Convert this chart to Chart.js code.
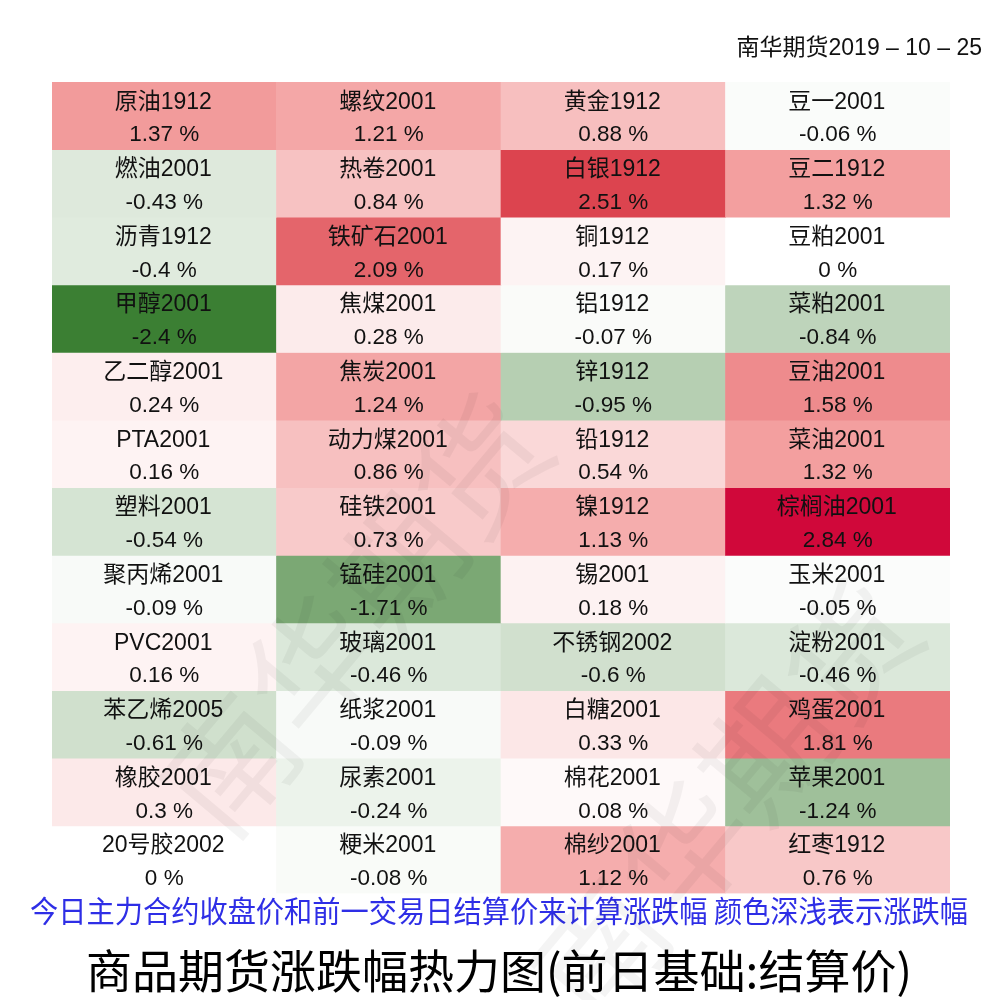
<!DOCTYPE html>
<html>
<head>
<meta charset="utf-8">
<script src="https://cdn.jsdelivr.net/npm/chart.js@4/dist/chart.umd.min.js"></script>
<style>
  html, body { margin: 0; padding: 0; background: #ffffff; }
  #wrap { width: 1000px; height: 1000px; }
</style>
</head>
<body>
<div id="wrap"><canvas id="c" width="1000" height="1000"></canvas></div>
<script>
// ---- data (column by column, top to bottom) ----
const col1Names = ['原油1912','燃油2001','沥青1912','甲醇2001','乙二醇2001','PTA2001','塑料2001','聚丙烯2001','PVC2001','苯乙烯2005','橡胶2001','20号胶2002'];
const col1Values = [1.37,-0.43,-0.4,-2.4,0.24,0.16,-0.54,-0.09,0.16,-0.61,0.3,0];
const col2Names = ['螺纹2001','热卷2001','铁矿石2001','焦煤2001','焦炭2001','动力煤2001','硅铁2001','锰硅2001','玻璃2001','纸浆2001','尿素2001','粳米2001'];
const col2Values = [1.21,0.84,2.09,0.28,1.24,0.86,0.73,-1.71,-0.46,-0.09,-0.24,-0.08];
const col3Names = ['黄金1912','白银1912','铜1912','铝1912','锌1912','铅1912','镍1912','锡2001','不锈钢2002','白糖2001','棉花2001','棉纱2001'];
const col3Values = [0.88,2.51,0.17,-0.07,-0.95,0.54,1.13,0.18,-0.6,0.33,0.08,1.12];
const col4Names = ['豆一2001','豆二1912','豆粕2001','菜粕2001','豆油2001','菜油2001','棕榈油2001','玉米2001','淀粉2001','鸡蛋2001','苹果2001','红枣1912'];
const col4Values = [-0.06,1.32,0,-0.84,1.58,1.32,2.84,-0.05,-0.46,1.81,-1.24,0.76];

const columnKeys = ['c1','c2','c3','c4'];
const rowCount = 12;
const dateLabel = '南华期货2019 – 10 – 25';
const titleText = '商品期货涨跌幅热力图(前日基础:结算价)';
const subtitleText = '今日主力合约收盘价和前一交易日结算价来计算涨跌幅 颜色深浅表示涨跌幅';
const watermarkText = '南华期货';

// ---- colour scale (diverging: green for falls, red for rises) ----
const scaleStops = [
  [-2.4, [59,127,51]],
  [-1.71,[123,168,116]],
  [0,    [255,255,255]],
  [1.4,  [242,153,153]],
  [2.5,  [220,70,80]],
  [2.84, [208,8,58]]
];
function colorFor(v) {
  if (v <= scaleStops[0][0]) return 'rgb(' + scaleStops[0][1].join(',') + ')';
  for (let i = 1; i < scaleStops.length; i++) {
    const [v1, c1] = scaleStops[i];
    const [v0, c0] = scaleStops[i-1];
    if (v <= v1) {
      const t = (v - v0) / (v1 - v0);
      const c = c0.map((x, k) => Math.round(x + (c1[k] - x) * t));
      return 'rgb(' + c.join(',') + ')';
    }
  }
  return 'rgb(' + scaleStops[scaleStops.length-1][1].join(',') + ')';
}

const namesByCol = [col1Names, col2Names, col3Names, col4Names];
const valuesByCol = [col1Values, col2Values, col3Values, col4Values];

const datasets = [];
for (let r = 0; r < rowCount; r++) {
  datasets.push({
    label: 'row' + (r + 1),
    data: columnKeys.map(() => [r, r + 1]),
    names: namesByCol.map(col => col[r]),
    values: valuesByCol.map(col => col[r]),
    backgroundColor: valuesByCol.map(col => colorFor(col[r])),
    borderWidth: 0,
    barPercentage: 1,
    categoryPercentage: 1,
    grouped: false
  });
}

const FONT = '"Liberation Sans", Arial, "Noto Sans CJK SC", sans-serif';

const cellTextPlugin = {
  id: 'cellText',
  afterDatasetsDraw(chart) {
    const ctx = chart.ctx;
    // watermark
    ctx.save();
    ctx.fillStyle = 'rgba(0,0,0,0.045)';
    ctx.font = '130px "Noto Sans CJK SC", sans-serif';
    ctx.textAlign = 'center';
    ctx.textBaseline = 'middle';
    [[355, 615], [725, 800]].forEach(([x, y]) => {
      ctx.save();
      ctx.translate(x, y);
      ctx.rotate(-50 * Math.PI / 180);
      ctx.fillText(watermarkText, 0, 0);
      ctx.restore();
    });
    ctx.restore();

    ctx.save();
    ctx.fillStyle = '#111111';
    ctx.textAlign = 'center';
    ctx.textBaseline = 'middle';
    chart.data.datasets.forEach((ds, di) => {
      const meta = chart.getDatasetMeta(di);
      meta.data.forEach((el, i) => {
        const p = el.getProps(['x', 'y', 'base'], true);
        const top = Math.min(p.y, p.base);
        const h = Math.abs(p.y - p.base);
        ctx.font = '23px ' + FONT;
        ctx.fillText(ds.names[i], p.x - 1, top + h * 0.27 + 2);
        ctx.font = '22.5px ' + FONT;
        ctx.fillText(ds.values[i] + ' %', p.x, top + h * 0.755 + 2);
      });
    });
    ctx.restore();

    // date label top-right
    ctx.save();
    ctx.fillStyle = '#111111';
    ctx.font = '23px ' + FONT;
    ctx.textAlign = 'right';
    ctx.textBaseline = 'middle';
    ctx.fillText(dateLabel, 982, 49);
    ctx.restore();
  }
};

new Chart(document.getElementById('c'), {
  type: 'bar',
  data: { labels: columnKeys, datasets },
  options: {
    responsive: false,
    animation: false,
    events: [],
    layout: { padding: { left: 30, right: 32, top: 82, bottom: 0 } },
    scales: {
      x: { type: 'category', display: false, offset: true, grid: { display: false } },
      y: {
        type: 'linear', display: true, position: 'left', min: 0, max: rowCount, reverse: true,
        ticks: { display: false }, grid: { display: false }, border: { display: false },
        afterFit(scale) { scale.width = 22; }
      },
      yRight: {
        type: 'linear', display: true, position: 'right', min: 0, max: rowCount,
        ticks: { display: false }, grid: { display: false }, border: { display: false },
        afterFit(scale) { scale.width = 18; }
      }
    },
    plugins: {
      legend: { display: false },
      tooltip: { enabled: false },
      title: {
        display: true,
        position: 'bottom',
        text: titleText,
        color: '#000000',
        font: { family: '"Noto Sans CJK SC", sans-serif', size: 46, weight: 'normal', lineHeight: 1.2 },
        padding: { top: 13, bottom: 2 }
      },
      subtitle: {
        display: true,
        position: 'bottom',
        text: subtitleText,
        color: '#2e2ee6',
        font: { family: '"Noto Sans CJK SC", sans-serif', size: 29.3, weight: 'normal', lineHeight: 1 },
        padding: { top: 3, bottom: 4 }
      }
    }
  },
  plugins: [cellTextPlugin]
});
</script>
</body>
</html>
